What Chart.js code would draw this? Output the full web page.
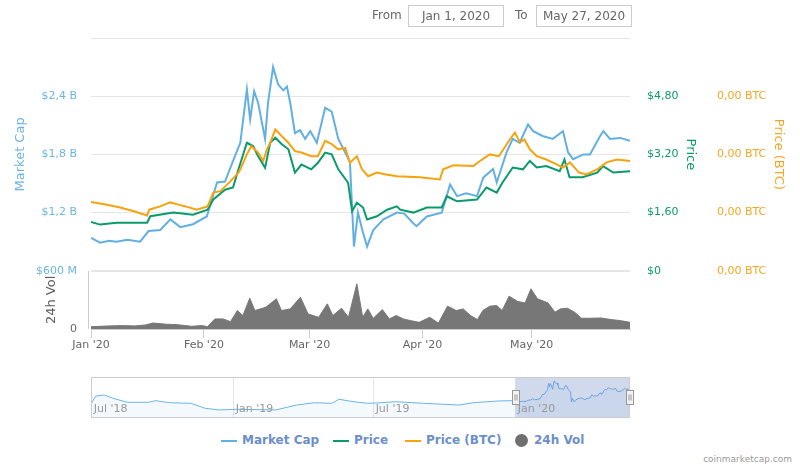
<!DOCTYPE html>
<html>
<head>
<meta charset="utf-8">
<script src="https://cdn.jsdelivr.net/npm/chart.js@4.4.1/dist/chart.umd.min.js"></script>
<style>
  body { margin: 0; background: #fff; font-family: 'DejaVu Sans', sans-serif; }
  #wrap { position: relative; width: 800px; height: 468px; overflow: hidden; }
  #main { position: absolute; left: 0; top: 0; }
  #nav { position: absolute; left: 0; top: 377px; }
  .lbl { position: absolute; font-size: 12px; color: #666; line-height: 20px; }
  .box { position: absolute; top: 5px; height: 20px; border: 1px solid #ccc; font-size: 12px; color: #666;
         line-height: 20px; text-align: center; box-sizing: content-box; }
  .leg { position: absolute; top: 432px; font-size: 12px; font-weight: bold; color: #6b8fc9; line-height: 16px; }
  .sw { position: absolute; width: 16px; height: 2px; top: 440px; }
  .dot { position: absolute; width: 13px; height: 13px; border-radius: 50%; top: 434px; background: #6f6f6f; }
  #credit { position: absolute; right: 8px; top: 454px; font-size: 9px; color: #999; }
</style>
</head>
<body>
<div id="wrap">
  <canvas id="main" width="800" height="360"></canvas>
  <canvas id="nav" width="800" height="41"></canvas>

  <div class="lbl" style="left:372px;top:5px">From</div>
  <div class="box" style="left:408px;width:94px">Jan 1, 2020</div>
  <div class="lbl" style="left:515px;top:5px">To</div>
  <div class="box" style="left:536px;width:94px">May 27, 2020</div>

  <div class="sw" style="left:221px;background:#62b0e3"></div>
  <div class="leg" style="left:242px">Market Cap</div>
  <div class="sw" style="left:333px;background:#0a9a6c"></div>
  <div class="leg" style="left:354px">Price</div>
  <div class="sw" style="left:405px;background:#f5a30f"></div>
  <div class="leg" style="left:426px">Price (BTC)</div>
  <div class="dot" style="left:515px"></div>
  <div class="leg" style="left:534px">24h Vol</div>

  <div id="credit">coinmarketcap.com</div>
</div>

<script>
// days counted from Jan 1, 2020
const monthDays = [0, 31, 60, 91, 121];
const monthLabels = ["Jan '20", "Feb '20", "Mar '20", "Apr '20", "May '20"];

// market cap, billions USD
const capDays = [0, 2.5, 5, 7, 10, 13.5, 15.8, 19, 21.8, 24.5, 28, 31.8, 34.6, 36.8, 39.6, 41, 42.8, 43.7, 44.8, 45.9,
  47.8, 48.6, 50, 51.4, 52.8, 53.8, 54.7, 56, 57.4, 58.8, 60.2, 62, 64.3, 66.1, 67.9, 69.8, 71.1, 72.2, 73.3, 74.5,
  75.8, 77.5, 80.3, 84, 86, 88.5, 89.4, 92.2, 96.3, 98.6, 100.5, 103, 106, 107.7, 110.4, 111.4, 114.1, 115.8, 117.7,
  120, 121.4, 124, 126.8, 129.6, 131, 132.4, 135.2, 137, 139.8, 140.7, 142.5, 145.3, 148];
const capValues = [0.94, 0.89, 0.91, 0.90, 0.92, 0.90, 1.01, 1.02, 1.13, 1.05, 1.08, 1.16, 1.51, 1.52, 1.79, 1.92, 2.47, 2.16, 2.45, 2.33,
  1.96, 2.33, 2.70, 2.52, 2.46, 2.50, 2.33, 2.02, 2.05, 1.96, 2.04, 1.92, 2.28, 2.24, 1.96, 1.82, 1.72, 0.85, 1.20, 1.02,
  0.85, 1.02, 1.13, 1.20, 1.19, 1.09, 1.06, 1.16, 1.20, 1.49, 1.37, 1.40, 1.37, 1.56, 1.65, 1.51, 1.82, 1.96, 1.92,
  2.11, 2.04, 1.99, 1.96, 2.04, 1.82, 1.75, 1.80, 1.80, 1.99, 2.04, 1.96, 1.97, 1.94];

// price, USD
const priceDays = [0, 2.5, 7, 15.4, 16.3, 22.6, 28, 32, 33.6, 36.8, 39, 40.5, 42.8, 44.5, 45.9, 47.8, 49.2, 50.6, 52.4,
  54.2, 56, 57.8, 60.5, 62.3, 64.3, 66.1, 67.9, 69.3, 70.6, 71.7, 73, 74.7, 75.8, 78.5, 81.3, 84, 84.9, 88.5, 92.2,
  96.3, 97.7, 100.5, 106, 108.6, 111.4, 113, 115.8, 118.6, 120.5, 122.4, 125, 128.7, 130, 131.4, 135, 139, 140.6,
  143.4, 148];
const priceValues = [1.34, 1.27, 1.32, 1.32, 1.50, 1.60, 1.54, 1.68, 1.96, 2.23, 2.29, 2.79, 3.52, 3.43, 3.15, 2.83, 3.52, 3.66, 3.48,
  3.34, 2.70, 2.92, 2.79, 2.97, 3.25, 3.20, 2.79, 2.60, 2.42, 1.64, 1.87, 1.74, 1.41, 1.50, 1.68, 1.77, 1.68, 1.60, 1.74,
  1.74, 2.05, 1.91, 1.96, 2.29, 2.15, 2.43, 2.84, 2.79, 3.02, 2.84, 2.88, 2.74, 3.06, 2.57, 2.57, 2.70, 2.88,
  2.70, 2.74];

// price in BTC
const btcDays = [0, 4, 8, 12, 15.4, 16, 19, 21.7, 24, 26, 29, 32, 33.6, 35.5, 38, 40.5, 41, 42.8, 44, 45.9, 47.3, 48.3,
  49.2, 50.6, 52.4, 54.2, 56, 57.8, 60.5, 62.3, 64.3, 66.1, 67.9, 69.8, 71.1, 73, 74.4, 76.1, 78.5, 81, 84, 90.3, 95.8,
  96.7, 99.5, 105, 106.8, 109.5, 112, 115, 116.4, 117.8, 119, 120.5, 122.4, 125, 128, 129.6, 131.5, 134, 136, 139,
  141.6, 144.4, 148];
const btcValues = [0.000189, 0.000182, 0.000174, 0.000163, 0.000152, 0.000168, 0.000177, 0.000188, 0.000182, 0.000177, 0.000168,
  0.000177, 0.000215, 0.000219, 0.000243, 0.000270, 0.000279, 0.000320, 0.000343, 0.000325, 0.000302, 0.000334,
  0.000352, 0.000389, 0.000370, 0.000352, 0.000329, 0.000325, 0.000315, 0.000315, 0.000357, 0.000348, 0.000334,
  0.000338, 0.000297, 0.000315, 0.000279, 0.000260, 0.000270, 0.000265, 0.000260, 0.000257, 0.000251,
  0.000279, 0.000290, 0.000288, 0.000302, 0.000320, 0.000315, 0.000361, 0.000380, 0.000353, 0.000361, 0.000334,
  0.000315, 0.000306, 0.000292, 0.000284, 0.000298, 0.000270, 0.000265, 0.000279, 0.000298, 0.000306, 0.000302];

// 24h volume, millions USD
const volDays = [0, 4, 8.2, 12, 15, 17, 20.8, 23.7, 27.6, 30.5, 32, 34, 36.3, 38.3, 40.2, 41.7, 43.6, 45, 48, 50.9, 52.3,
  54.7, 57.5, 59.6, 62.5, 64.9, 66.4, 68.8, 70.7, 73, 74.6, 76, 77.5, 80, 81.9, 83.8, 85.8, 87.7, 90.1, 93, 95.4,
  97.9, 100.3, 102.2, 104.2, 106.1, 107.6, 109.5, 111.4, 112.9, 114.8, 117.2, 119.2, 120.8, 122.6, 125.5, 127.4,
  128.9, 130.8, 132.8, 134.7, 136.6, 140, 142.9, 145.3, 148];
const volValues = [24, 30, 35, 32, 42, 62, 49, 45, 28, 35, 24, 104, 104, 76, 191, 139, 319, 191, 225, 312, 191,
  208, 329, 156, 121, 260, 139, 215, 121, 468, 121, 208, 111, 201, 104, 139, 104, 87, 69, 121, 62,
  236, 191, 208, 139, 97, 191, 236, 243, 191, 340, 284, 270, 416, 312, 270, 173,
  208, 215, 173, 111, 111, 114, 97, 87, 69];

// navigator: market cap before 2020, days counted from Jul 1, 2018 (billions USD)
const navDays = [-0.5, 5, 16.3, 27.8, 46, 73.5, 82.7, 100.9, 128.3, 146.5, 164.9, 187.7, 238, 265.4, 288.3, 311,
  320.2, 338.6, 356.8, 375, 393.4, 429.9, 475.7, 493.9, 525.8, 544.2];
const navValues = [0.74, 1.37, 1.46, 1.17, 0.83, 0.83, 0.97, 0.79, 0.74, 0.31, 0.16, 0.22, 0.16, 0.59, 0.79, 0.74,
  1.09, 0.88, 0.74, 0.79, 0.88, 0.74, 0.59, 0.79, 0.94, 0.97];
const navTickDays = [0, 184, 365, 549];
const navTickLabels = ["Jul '18", "Jan '19", "Jul '19", "Jan '20"];

const capTicks = [0, 0.6, 1.2, 1.8, 2.4, 3.0];
const priceTicks = [0, 1.6, 3.2, 4.8];
const btcTicks = [0, 0.00016, 0.00032, 0.00048];

Chart.defaults.font.family = "'DejaVu Sans', sans-serif";
Chart.defaults.font.size = 11;

const pts = (xs, ys, shift = 0) => xs.map((x, i) => ({ x: x + shift, y: ys[i] }));
const setTicks = list => scale => { scale.ticks = list.map(v => ({ value: v })); };

const axisTitles = {
  id: 'axisTitles',
  afterDraw(chart) {
    const c = chart.ctx;
    const top = chart.chartArea.top;
    const split = chart.scales.cap.getPixelForValue(0.6);
    const bottom = chart.chartArea.bottom;
    const mid = (top + split) / 2;
    const draw = (text, x, y, rot, color) => {
      c.save();
      c.translate(x, y);
      c.rotate(rot);
      c.fillStyle = color;
      c.font = "13px 'DejaVu Sans'";
      c.textAlign = 'center';
      c.textBaseline = 'middle';
      c.fillText(text, 0, 0);
      c.restore();
    };
    draw('Market Cap', 21, mid, -Math.PI / 2, '#6cb4e4');
    draw('24h Vol', 52, (split + bottom) / 2, -Math.PI / 2, '#606060');
    draw('Price', 690, mid, Math.PI / 2, '#0a9a6c');
    draw('Price (BTC)', 778, mid, Math.PI / 2, '#f5a623');
    // short axis line of the volume pane
    c.save();
    c.strokeStyle = '#ccc';
    c.lineWidth = 1;
    c.beginPath();
    c.moveTo(88.5, split);
    c.lineTo(88.5, bottom);
    c.stroke();
    c.restore();
  }
};

new Chart(document.getElementById('main'), {
  type: 'line',
  data: {
    datasets: [
      { label: 'Market Cap', data: pts(capDays, capValues), yAxisID: 'cap', borderColor: '#62b0e3',
        borderWidth: 2, pointRadius: 0, order: 3 },
      { label: 'Price', data: pts(priceDays, priceValues), yAxisID: 'price', borderColor: '#0a9a6c',
        borderWidth: 2, pointRadius: 0, order: 2 },
      { label: 'Price (BTC)', data: pts(btcDays, btcValues), yAxisID: 'btc', borderColor: '#f5a30f',
        borderWidth: 2, pointRadius: 0, order: 1 },
      { label: '24h Vol', data: pts(volDays, volValues), yAxisID: 'vol', borderColor: '#777',
        backgroundColor: '#777', fill: 'origin', borderWidth: 1, pointRadius: 0, order: 4 }
    ]
  },
  options: {
    responsive: false,
    animation: false,
    layout: { padding: { top: 38, left: 0, right: 0, bottom: 0 } },
    plugins: { legend: { display: false }, tooltip: { enabled: false } },
    scales: {
      x: {
        type: 'linear', min: 0, max: 148,
        afterBuildTicks: setTicks(monthDays),
        afterFit: s => { s.height = 31; },
        ticks: { callback: (v, i) => monthLabels[i], color: '#666', padding: 1, maxRotation: 0, autoSkip: false },
        grid: { drawOnChartArea: false, tickLength: 9, color: '#ccc' },
        border: { color: '#ccc' }
      },
      cap: {
        position: 'left', min: 0, max: 3.0,
        afterBuildTicks: setTicks(capTicks),
        afterFit: s => { s.width = 91; },
        ticks: {
          padding: 14,
          color: ctx => ctx.tick.value === 0 ? '#666' : '#6cb4e4',
          callback: v => v === 0 ? '0' : v < 1 ? '$' + Math.round(v * 1000) + ' M'
            : v >= 3 ? '' : '$' + v.toFixed(1).replace('.', ',') + ' B'
        },
        grid: {
          drawTicks: false,
          color: ctx => ctx.tick.value === 0 ? '#ccc' : '#e6e6e6',
          lineWidth: ctx => ctx.tick.value === 0.6 ? 2 : 1
        },
        border: { display: false }
      },
      price: {
        position: 'right', min: -1.6, max: 6.4,
        afterBuildTicks: setTicks(priceTicks),
        afterFit: s => { s.width = 70; },
        ticks: { padding: 17, color: '#0a9a6c', callback: v => v === 0 ? '$0' : '$' + v.toFixed(2).replace('.', ',') },
        grid: { drawOnChartArea: false, drawTicks: false },
        border: { display: false }
      },
      btc: {
        position: 'right', min: -0.00016, max: 0.00064,
        afterBuildTicks: setTicks(btcTicks),
        afterFit: s => { s.width = 100; },
        ticks: { padding: 17, color: '#f5a623', callback: v => v.toFixed(2).replace('.', ',') + ' BTC' },
        grid: { drawOnChartArea: false, drawTicks: false },
        border: { display: false }
      },
      vol: { display: false, min: 0, max: 3010 }
    }
  },
  plugins: [axisTitles]
});

const navDecor = {
  id: 'navDecor',
  afterDraw(chart) {
    const c = chart.ctx;
    const a = chart.chartArea;
    const xs = chart.scales.x;
    c.save();
    // selected range
    const x0 = xs.getPixelForValue(549);
    c.fillStyle = 'rgba(102,133,194,0.3)';
    c.fillRect(x0, a.top, a.right - x0, a.bottom - a.top);
    // outline
    c.strokeStyle = '#ccc';
    c.lineWidth = 1;
    c.strokeRect(a.left + 0.5, a.top + 0.5, a.right - a.left - 1, a.bottom - a.top - 1);
    // labels
    c.fillStyle = '#999';
    c.font = "11px 'DejaVu Sans'";
    c.textBaseline = 'middle';
    c.textAlign = 'left';
    navTickDays.forEach((d, i) => c.fillText(navTickLabels[i], xs.getPixelForValue(d) + 2, 32));
    // handles
    [x0, a.right].forEach(hx => {
      const l = Math.round(hx) - 3.5, t = 13.5;
      c.fillStyle = '#f2f2f2';
      c.strokeStyle = '#999';
      c.fillRect(l, t, 7, 14);
      c.strokeRect(l, t, 7, 14);
      c.beginPath();
      c.moveTo(l + 2.5, t + 4); c.lineTo(l + 2.5, t + 10);
      c.moveTo(l + 4.5, t + 4); c.lineTo(l + 4.5, t + 10);
      c.stroke();
    });
    c.restore();
  }
};

new Chart(document.getElementById('nav'), {
  type: 'line',
  data: {
    datasets: [{
      data: pts(navDays, navValues).concat(pts(capDays, capValues, 549)),
      borderColor: '#6cb4e4', borderWidth: 1, pointRadius: 0,
      fill: 'start', backgroundColor: 'rgba(108,180,228,0.08)'
    }]
  },
  options: {
    responsive: false,
    animation: false,
    layout: { padding: { left: 91, right: 170, top: 0, bottom: 0 } },
    plugins: { legend: { display: false }, tooltip: { enabled: false } },
    scales: {
      x: {
        type: 'linear', min: -1, max: 697,
        afterBuildTicks: setTicks(navTickDays),
        ticks: { display: false },
        grid: { color: '#e6e6e6', drawTicks: false },
        border: { display: false }
      },
      y: { display: false, min: -0.54, max: 3.03 }
    }
  },
  plugins: [navDecor]
});
</script>
</body>
</html>
